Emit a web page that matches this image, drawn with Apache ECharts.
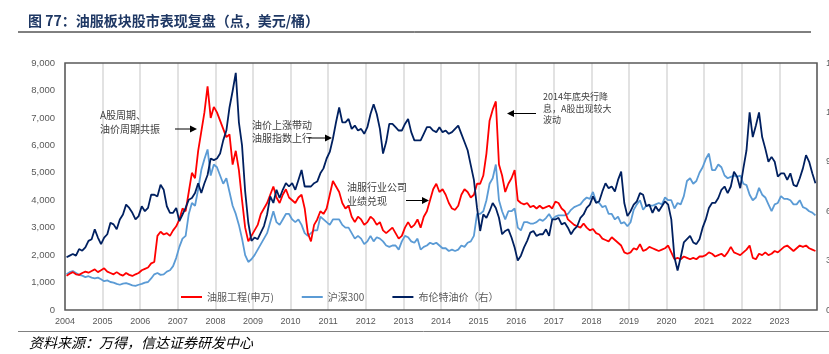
<!DOCTYPE html>
<html>
<head>
<meta charset="utf-8">
<script src="https://cdn.jsdelivr.net/npm/echarts@6/dist/echarts.min.js"></script>
<style>
html,body{margin:0;padding:0;background:#fff;}
#c{width:829px;height:354px;}
</style>
</head>
<body>
<div id="c"></div>
<script>
// Monthly values, Jan 2004 – Dec 2023
var startYear = 2004;
var yearLabels = ['2004','2005','2006','2007','2008','2009','2010','2011','2012','2013','2014','2015','2016','2017','2018','2019','2020','2021','2022','2023'];

var oilService = [
1250,1320,1380,1300,1280,1350,1400,1360,1420,1480,1380,1450,
1520,1400,1350,1300,1380,1300,1250,1350,1280,1240,1300,1350,
1450,1500,1550,1700,1750,2700,2850,2750,2800,2700,2900,3050,
3300,3700,3600,4300,5000,4800,5800,6500,7200,8150,7000,7400,
7200,6900,6600,6300,6400,5300,5800,5100,4000,3000,2500,2700,
2900,3100,3500,3700,3900,4200,4500,4100,3900,4200,4400,4100,
4000,3900,4100,4200,3700,2800,2500,3100,3300,3600,3500,3700,
4200,4700,4500,4300,3900,3700,3800,3400,3200,3400,3300,3100,
3200,3400,3300,3100,3200,2900,2800,2900,3000,2800,2600,2700,
3000,3200,3000,3100,3300,3000,3400,3600,4000,4400,4600,4300,
4400,4200,3900,3700,3650,3800,4200,4400,4300,4100,4200,4600,
4600,4900,5700,6900,7300,7600,5300,4900,4300,4600,4800,5100,
4000,3900,3850,3900,3750,3800,3700,3800,3700,3750,3800,3700,
3950,3900,3700,3600,3300,3200,3100,3050,3000,3150,3000,2900,
2950,2800,2750,2600,2550,2500,2650,2550,2450,2350,2100,2050,
2100,2250,2200,2400,2150,2200,2300,2250,2200,2150,2200,2250,
2350,2100,1850,1900,1850,1950,1900,1850,1900,1850,1950,1950,
2000,2100,2050,1950,2000,2050,1950,2100,2300,2100,2050,2000,
2100,2200,2350,1900,1850,2050,2000,2100,2000,2050,2150,2100,
2200,2300,2350,2250,2150,2250,2350,2300,2350,2250,2200,2150
];

var csi300 = [
1300,1380,1420,1350,1280,1250,1200,1230,1180,1150,1180,1120,
1050,1080,1020,1000,950,920,960,980,940,900,880,920,
950,1000,1020,1150,1300,1350,1280,1300,1400,1450,1600,1900,
2300,2600,2700,3500,3900,3800,4400,5100,5500,5850,4900,5300,
5200,4900,4600,4800,4300,3800,3500,3100,2600,2000,1750,1850,
2000,2200,2400,2600,2800,3200,3600,3200,3100,3300,3500,3500,
3300,3200,3300,3100,2800,2700,2800,2900,2900,3400,3300,3200,
3100,3300,3300,3300,3100,3000,3000,2800,2600,2700,2600,2400,
2500,2700,2500,2650,2600,2500,2350,2300,2350,2350,2200,2500,
2700,2650,2500,2450,2600,2200,2300,2350,2450,2400,2450,2350,
2250,2250,2150,2200,2150,2200,2350,2300,2450,2500,2700,3500,
3500,3600,4000,4600,4800,5300,4000,3600,3300,3600,3600,3700,
3000,2900,3200,3200,3150,3150,3200,3300,3250,3350,3500,3300,
3400,3450,3450,3450,3500,3650,3750,3800,3850,4000,4100,4050,
4300,3950,3900,3750,3800,3500,3500,3300,3400,3150,3200,3050,
3200,3650,3850,4000,3650,3800,3800,3800,3850,3900,3850,4100,
4000,4000,3700,3900,3850,4150,4700,4800,4600,4700,5000,5200,
5500,5700,5100,5100,5300,5200,4900,4800,4850,4900,4850,4900,
4600,4550,4200,4000,4100,4450,4200,4100,3850,3600,3850,3900,
4150,4050,4050,4000,3850,3850,4000,3750,3700,3600,3550,3450
];

var brent = [
32,33,34,33,37,36,38,42,43,49,44,40,
44,46,53,52,49,55,58,64,62,59,55,57,
63,60,62,70,70,69,76,73,63,59,59,62,
54,58,62,67,68,71,77,71,77,82,92,91,
92,95,103,109,123,133,144,114,100,72,53,42,
44,43,47,51,58,69,65,73,68,73,77,75,
77,73,79,85,75,75,75,77,78,83,86,92,
96,104,114,123,114,114,116,110,112,109,110,107,
111,119,125,119,110,95,102,113,113,111,109,109,
113,116,108,103,103,103,107,111,111,109,108,111,
108,109,107,108,110,112,107,102,97,88,79,62,
48,58,56,60,65,62,56,46,48,49,44,38,
30,33,38,42,47,48,45,46,46,49,45,55,
55,56,52,53,50,46,49,51,56,58,62,64,
69,65,66,72,77,74,75,72,79,84,65,57,
60,64,66,71,70,63,64,59,63,60,63,66,
64,55,32,24,32,41,43,45,41,40,43,50,
55,62,65,65,68,73,75,71,75,84,81,74,
86,97,120,105,112,120,105,98,90,93,90,81,
83,83,79,83,76,75,80,86,94,90,83,77
];

var seriesNames = ['油服工程(申万)', '沪深300', '布伦特油价（右）'];

function toPoints(arr) {
  return arr.map(function (v, i) { return [startYear + (i + 0.5) / 12, v]; });
}

var G = { left: 65, top: 63, right: 12, bottom: 44 };
var W = 829, H = 354;
var FONT = '"Noto Sans CJK SC", "Liberation Sans", sans-serif';
var NUMFONT = '"Liberation Sans Narrow", "Liberation Sans", sans-serif';

function arrow(x1, x2, y) {
  var dir = x2 > x1 ? 1 : -1;
  return [
    { type: 'line', z: 50, shape: { x1: x1, y1: y, x2: x2 - dir * 5, y2: y }, style: { stroke: '#000', lineWidth: 1 } },
    { type: 'polygon', z: 50, shape: { points: [[x2 - dir * 7, y - 3.5], [x2, y], [x2 - dir * 7, y + 3.5]] }, style: { fill: '#000' } }
  ];
}

function annText(x, y, txt, fs, lh) {
  return { type: 'text', z: 50, x: x, y: y, style: { text: txt, font: fs + 'px ' + FONT, fill: '#404040', lineHeight: lh, textVerticalAlign: 'top' } };
}

var graphics = [
  { type: 'text', x: 28, y: 20.5, style: { text: '图 77：油服板块股市表现复盘（点，美元/桶）', font: 'bold 14px ' + FONT, fill: '#1F3864', textVerticalAlign: 'middle' } },
  { type: 'line', shape: { x1: 18, y1: 32, x2: 811, y2: 32 }, style: { stroke: '#000', lineWidth: 1 } },
  { type: 'line', shape: { x1: 18, y1: 331.5, x2: 829, y2: 331.5 }, style: { stroke: '#808080', lineWidth: 1 } },
  { type: 'text', x: 29, y: 342.5, style: { text: '资料来源：万得，信达证券研发中心', font: 'italic 14px ' + FONT, fill: '#000', textVerticalAlign: 'middle' } },
  { type: 'rect', z: 60, shape: { x: G.left, y: G.top, width: W - G.left - G.right, height: H - G.top - G.bottom }, style: { fill: 'none', stroke: '#595959', lineWidth: 1.5 } },
  annText(100, 108, 'A股周期、\n油价周期共振', 10, 14),
  annText(252, 118, '油价上涨带动\n油服指数上行', 10, 13.5),
  annText(347, 180, '油服行业公司\n业绩兑现', 10, 14),
  annText(543, 91, '2014年底央行降\n息，A股出现较大\n波动', 9, 11.6)
];
graphics = graphics.concat(arrow(175, 197, 129), arrow(308, 332, 138), arrow(406, 429, 200.5), arrow(536, 507, 113.5));

var chart = echarts.init(document.getElementById('c'), null, { renderer: 'canvas' });
chart.setOption({
  animation: false,
  backgroundColor: '#fff',
  grid: { left: G.left, top: G.top, right: G.right, bottom: G.bottom, containLabel: false, outerBoundsMode: 'none' },
  legend: {
    left: 176, top: 287,
    icon: 'rect', itemWidth: 21, itemHeight: 2, itemGap: 28,
    textStyle: { fontSize: 10, color: '#595959', fontFamily: FONT },
    data: seriesNames
  },
  xAxis: {
    type: 'value', min: startYear, max: startYear + yearLabels.length, interval: 1,
    axisLine: { show: false }, axisTick: { show: false },
    splitLine: { show: true, lineStyle: { color: '#D9D9D9', width: 1.5 } },
    axisLabel: {
      margin: 7, fontSize: 9, color: '#595959', fontFamily: NUMFONT,
      formatter: function (v) { var i = Math.round(v - startYear); return yearLabels[i] || ''; }
    }
  },
  yAxis: [
    {
      type: 'value', min: 0, max: 9000, interval: 1000, position: 'left',
      axisLine: { show: false }, axisTick: { show: false }, splitLine: { show: false },
      axisLabel: { margin: 10, fontSize: 9.5, color: '#595959', fontFamily: '"Liberation Sans", sans-serif',
        formatter: function (v) { return v.toLocaleString('en-US'); } }
    },
    {
      type: 'value', min: 0, max: 150, interval: 30, position: 'right',
      axisLine: { show: false }, axisTick: { show: false }, splitLine: { show: false },
      axisLabel: { margin: 9, fontSize: 9.5, color: '#595959', fontFamily: '"Liberation Sans", sans-serif' }
    }
  ],
  series: [
    { name: seriesNames[0], type: 'line', yAxisIndex: 0, data: toPoints(oilService), showSymbol: false, symbol: 'none',
      lineStyle: { color: '#FF0000', width: 1.8 }, itemStyle: { color: '#FF0000' }, z: 3 },
    { name: seriesNames[1], type: 'line', yAxisIndex: 0, data: toPoints(csi300), showSymbol: false, symbol: 'none',
      lineStyle: { color: '#5B9BD5', width: 1.8 }, itemStyle: { color: '#5B9BD5' }, z: 2 },
    { name: seriesNames[2], type: 'line', yAxisIndex: 1, data: toPoints(brent), showSymbol: false, symbol: 'none',
      lineStyle: { color: '#002060', width: 1.8 }, itemStyle: { color: '#002060' }, z: 4 }
  ],
  graphic: graphics
});
</script>
</body>
</html>
